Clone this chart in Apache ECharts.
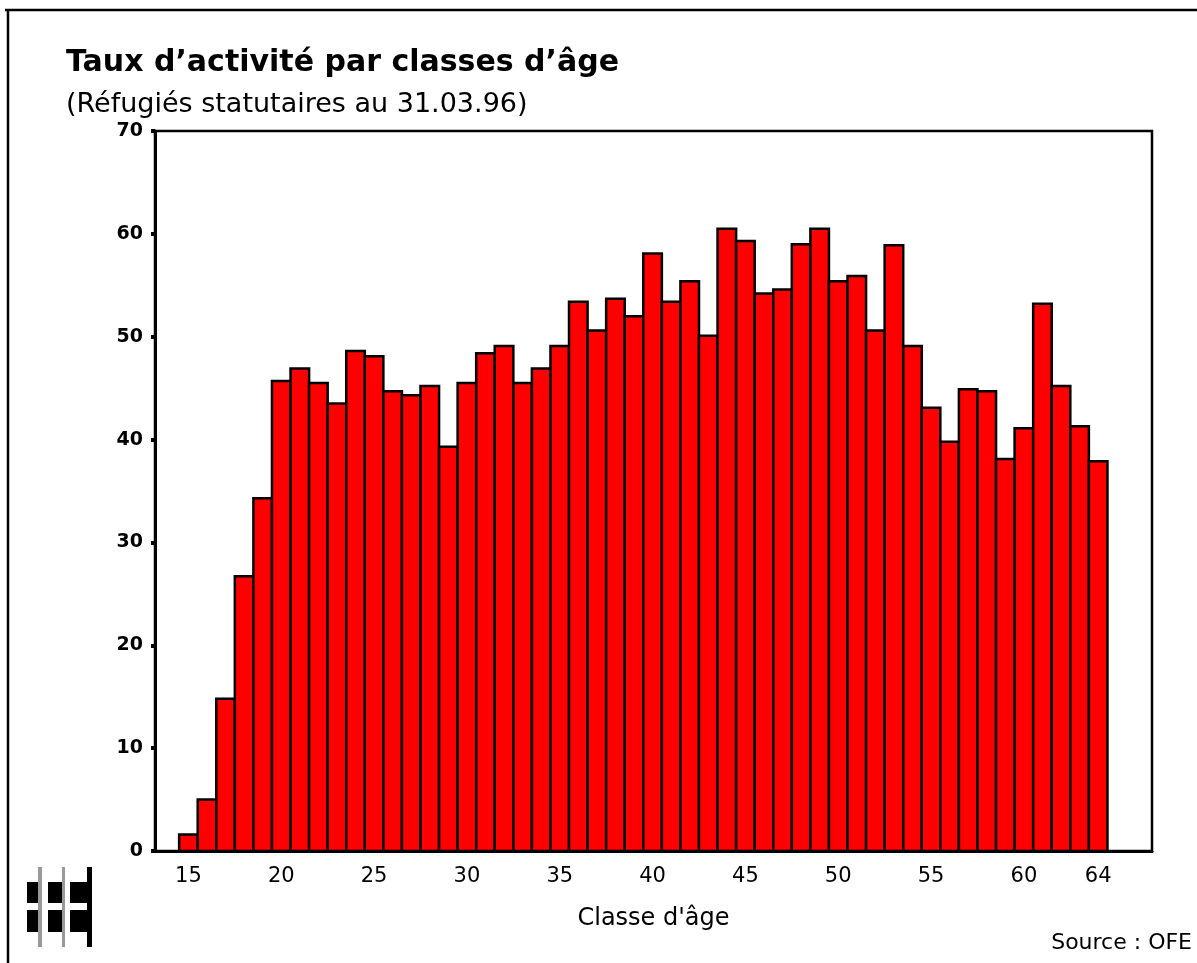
<!DOCTYPE html>
<html>
<head>
<meta charset="utf-8">
<script src="https://cdn.jsdelivr.net/npm/echarts@6/dist/echarts.min.js"></script>
<style>
html,body{margin:0;padding:0;background:#fff;}
#chart{width:1197px;height:963px;}
</style>
</head>
<body>
<div id="chart"></div>
<script>
const titleText = "Taux d\u2019activit\u00e9 par classes d\u2019\u00e2ge";
const subtitleText = "(R\u00e9fugi\u00e9s statutaires au 31.03.96)";
const xAxisName = "Classe d'\u00e2ge";
const sourceText = "Source : OFE";

const ages = [15,16,17,18,19,20,21,22,23,24,25,26,27,28,29,30,31,32,33,34,35,36,37,38,39,40,41,42,43,44,45,46,47,48,49,50,51,52,53,54,55,56,57,58,59,60,61,62,63,64];
const rates = [1.6,5.0,14.8,26.7,34.3,45.7,46.9,45.5,43.5,48.6,48.1,44.7,44.3,45.2,39.3,45.5,48.4,49.1,45.5,46.9,49.1,53.4,50.6,53.7,52.0,58.1,53.4,55.4,50.1,60.5,59.3,54.2,54.6,59.0,60.5,55.4,55.9,50.6,58.9,49.1,43.1,39.8,44.9,44.7,38.1,41.1,53.2,45.2,41.3,37.9];
const xTickLabels = [15,20,25,30,35,40,45,50,55,60,64];

const FONT = "DejaVu Sans";
const chart = echarts.init(document.getElementById('chart'));

const logoRects = [];
[[27,11],[48,14],[70,17]].forEach(c=>{
  logoRects.push({type:'rect',shape:{x:c[0],y:882,width:c[1],height:21},style:{fill:'#000'}});
  logoRects.push({type:'rect',shape:{x:c[0],y:910,width:c[1],height:22},style:{fill:'#000'}});
});
[[38,4,'#999'],[62,3,'#999'],[87,5,'#000']].forEach(v=>{
  logoRects.push({type:'rect',shape:{x:v[0],y:867,width:v[1],height:80},style:{fill:v[2]}});
});

function renderBar(params, api){
  const age = api.value(0), val = api.value(1);
  const p0 = api.coord([age - 0.5, val]);
  const p1 = api.coord([age + 0.5, 0]);
  return {
    type:'rect',
    shape:{x:p0[0], y:p0[1], width:p1[0]-p0[0], height:p1[1]-p0[1]},
    style:{fill:'#ff0000', stroke:'#000', lineWidth:2.5}
  };
}

chart.setOption({
  animation:false,
  backgroundColor:'#fff',
  title:[
    {text:titleText,left:61,top:43,textStyle:{fontFamily:FONT,fontWeight:'bold',fontSize:30,color:'#000'}},
    {text:subtitleText,left:61,top:86,textStyle:{fontFamily:FONT,fontWeight:'normal',fontSize:27,color:'#000'}}
  ],
  grid:{left:155,right:45,top:131,bottom:112,show:true,borderColor:'#000',borderWidth:2.5,backgroundColor:'transparent'},
  xAxis:{
    type:'value',min:13.2,max:66.9,
    name:xAxisName,nameLocation:'middle',nameGap:56,
    nameTextStyle:{fontFamily:FONT,fontSize:24,color:'#000'},
    axisLine:{show:true,onZero:false,lineStyle:{color:'#000',width:3}},
    axisTick:{show:false},
    splitLine:{show:false},
    axisLabel:{customValues:xTickLabels,fontFamily:FONT,fontSize:21,color:'#000',margin:15}
  },
  yAxis:{
    type:'value',min:0,max:70,interval:10,
    axisLine:{show:true,lineStyle:{color:'#000',width:3}},
    axisTick:{show:true,length:4,lineStyle:{color:'#000',width:4}},
    splitLine:{show:false},
    axisLabel:{fontFamily:FONT,fontSize:19,fontWeight:'bold',color:'#000',margin:12}
  },
  series:[{
    type:'custom',
    renderItem:renderBar,
    encode:{x:0,y:1},
    data:ages.map((a,i)=>[a,rates[i]]),
    z:1
  }],
  graphic:[
    {type:'line',shape:{x1:5,y1:10,x2:1197,y2:10},style:{stroke:'#000',lineWidth:2.5}},
    {type:'line',shape:{x1:8,y1:10,x2:8,y2:963},style:{stroke:'#000',lineWidth:2.5}},
    {type:'text',right:5,top:932,style:{text:sourceText,font:'22px "DejaVu Sans"',fill:'#000'}},
    {type:'group',left:27,top:867,children:logoRects.map(r=>Object.assign({},r,{shape:Object.assign({},r.shape,{x:r.shape.x-27,y:r.shape.y-867})}))}
  ]
});
</script>
</body>
</html>
